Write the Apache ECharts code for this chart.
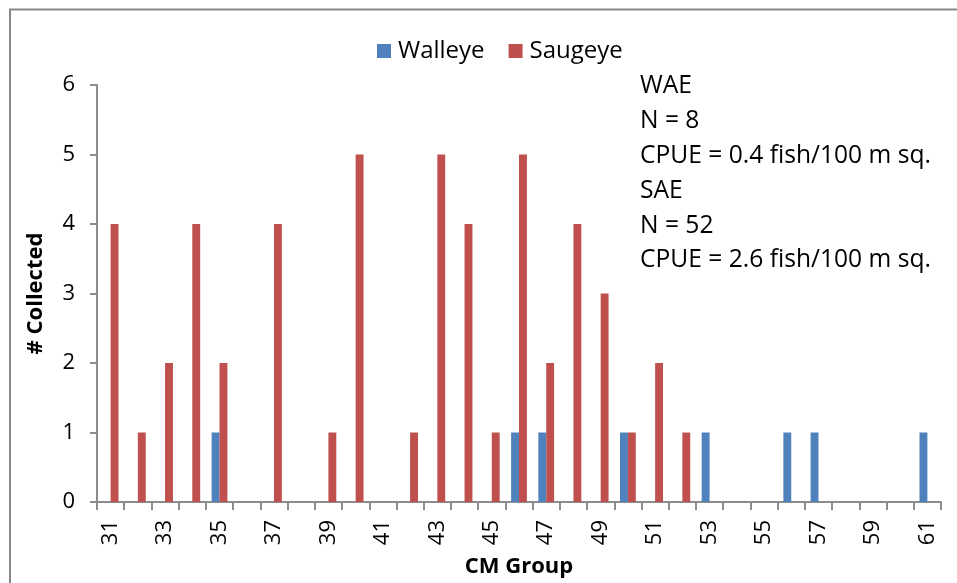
<!DOCTYPE html>
<html>
<head>
<meta charset="utf-8">
<script src="https://cdn.jsdelivr.net/npm/echarts@6/dist/echarts.min.js"></script>
<style>html,body{margin:0;padding:0;background:#fff}#c{width:957px;height:583px}</style>
</head>
<body>
<div id="c"></div>
<script>
var categories = ['31','32','33','34','35','36','37','38','39','40','41','42','43','44','45','46','47','48','49','50','51','52','53','54','55','56','57','58','59','60','61'];
var walleye =   [0,0,0,0,1,0,0,0,0,0,0,0,0,0,0,1,1,0,0,1,0,0,1,0,0,1,1,0,0,0,1];
var saugeye =   [4,1,2,4,2,0,4,0,1,5,0,1,5,4,1,5,2,4,3,1,2,1,0,0,0,0,0,0,0,0,0];
var yTicks = [0,1,2,3,4,5,6];
var notes = ['WAE','N = 8','CPUE = 0.4 fish/100 m sq.','SAE','N = 52','CPUE = 2.6 fish/100 m sq.'];

var FONT = 'Open Sans';
var chart = echarts.init(document.getElementById('c'), null, {renderer:'canvas'});
chart.setOption({
  animation:false,
  backgroundColor:'#fff',
  textStyle:{fontFamily:FONT},
  legend:{
    data:['Walleye','Saugeye'],
    left:372, top:34,
    itemWidth:14, itemHeight:14, itemGap:24,
    icon:'rect',
    textStyle:{fontFamily:FONT, fontSize:24, color:'#000', padding:[0,0,0,2]}
  },
  grid:{left:97, right:16, top:85, bottom:78, containLabel:false},
  xAxis:{
    type:'category',
    data:categories,
    boundaryGap:true,
    name:'CM Group',
    nameLocation:'middle',
    nameGap:54,
    nameTextStyle:{fontFamily:FONT, fontSize:22, fontWeight:'bold', color:'#000'},
    axisLine:{lineStyle:{color:'#8c8c8c', width:2}},
    axisTick:{show:true, interval:0, length:8, lineStyle:{color:'#8c8c8c', width:2}},
    axisLabel:{interval:1, rotate:90, margin:18, fontSize:22, color:'#000', fontFamily:FONT},
    splitLine:{show:false}
  },
  yAxis:{
    type:'value',
    min:0, max:6, interval:1,
    name:'# Collected',
    nameLocation:'middle',
    nameGap:50,
    nameRotate:90,
    nameTextStyle:{fontFamily:FONT, fontSize:22, fontWeight:'bold', color:'#000'},
    axisLine:{show:true, lineStyle:{color:'#8c8c8c', width:2}},
    axisTick:{show:true, length:7, inside:false, lineStyle:{color:'#8c8c8c', width:2}},
    axisLabel:{margin:22, fontSize:22, color:'#000', fontFamily:FONT,
      formatter:function(v){return yTicks.indexOf(v)>=0?String(v):'';}},
    splitLine:{show:false}
  },
  series:[
    {name:'Walleye', type:'bar', data:walleye, barGap:'0%', barCategoryGap:'42%',
     itemStyle:{color:'#4F81BD'}},
    {name:'Saugeye', type:'bar', data:saugeye, barGap:'0%', barCategoryGap:'42%',
     itemStyle:{color:'#C0504D'}}
  ],
  graphic:[
    {type:'rect', shape:{x:10, y:9.5, width:1200, height:1200}, silent:true,
     style:{fill:'none', stroke:'#888', lineWidth:2}},
    {type:'text', left:640, top:69, silent:true,
     style:{text:notes.join('\n'), font:'24.6px "Open Sans"', lineHeight:34.8, fill:'#000'}}
  ]
});
</script>
</body>
</html>
